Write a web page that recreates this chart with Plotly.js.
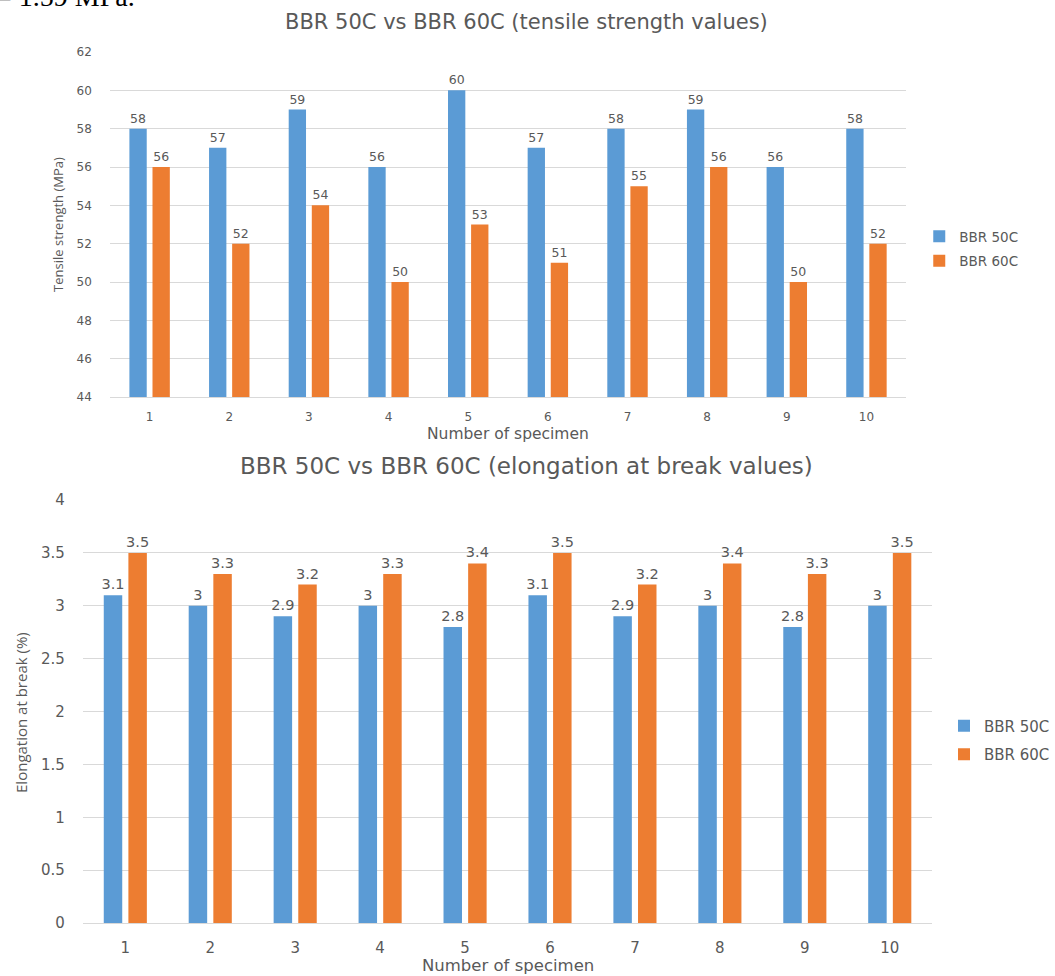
<!DOCTYPE html>
<html>
<head>
<meta charset="utf-8">
<script src="https://cdn.plot.ly/plotly-3.0.1.min.js"></script>
<style>html,body{margin:0;padding:0;background:#fff;}#chart{width:1055px;height:976px;}</style>
</head>
<body>
<div id="chart"></div>
<script>
const specimens = ['1','2','3','4','5','6','7','8','9','10'];
const tensile50 = [58,57,59,56,60,57,58,59,56,58];
const tensile60 = [56,52,54,50,53,51,55,56,50,52];
const elong50 = [3.1,3,2.9,3,2.8,3.1,2.9,3,2.8,3];
const elong60 = [3.5,3.3,3.2,3.3,3.4,3.5,3.2,3.4,3.3,3.5];
const seriesNames = ['BBR 50C','BBR 60C'];
const colors = ['#5B9BD5','#ED7D31'];
const topTitle = 'BBR 50C vs BBR 60C (tensile strength values)';
const bottomTitle = 'BBR 50C vs BBR 60C (elongation at break values)';
const topYTitle = 'Tensile strength (MPa)';
const bottomYTitle = 'Elongation at break (%)';
const xTitle = 'Number of specimen';
const fragmentText = '= 1.59 MPa.';

const W = 1055, H = 976;
const px = v => v / W;
const py = v => 1 - v / H;
const gray = '#595959';
const font = '"DejaVu Sans", sans-serif';
const fontNarrow = '"Open Sans", "DejaVu Sans", sans-serif';

function barTrace(y, i, xa, ya, legend, fs) {
  return {
    type: 'bar', x: specimens, y: y, name: seriesNames[i],
    xaxis: xa, yaxis: ya, legend: legend, legendgroup: legend + i,
    marker: {color: colors[i]},
    text: y.map(String), textposition: 'outside', cliponaxis: false,
    constraintext: 'none', textangle: 0,
    textfont: {family: font, size: fs, color: gray},
    hoverinfo: 'x+y'
  };
}

const data = [
  barTrace(tensile50, 0, 'x', 'y', 'legend', 12.5),
  barTrace(tensile60, 1, 'x', 'y', 'legend', 12.5),
  barTrace(elong50, 0, 'x2', 'y2', 'legend2', 14.5),
  barTrace(elong60, 1, 'x2', 'y2', 'legend2', 14.5)
];

const gridColor = '#d9d9d9';
const layout = {
  width: W, height: H,
  margin: {l: 0, r: 0, t: 0, b: 0},
  paper_bgcolor: '#fff', plot_bgcolor: '#fff',
  font: {family: font, color: gray},
  barmode: 'group', bargap: 0.42, bargroupgap: 0.25,
  showlegend: true,
  xaxis: {
    domain: [px(110), px(908)], anchor: 'y', type: 'category',
    showgrid: false, showline: true, linecolor: gridColor, linewidth: 1,
    ticks: '', ticklabelstandoff: 9,
    tickfont: {family: font, size: 12, color: gray}, zeroline: false
  },
  yaxis: {
    domain: [py(397), py(52)], anchor: 'x', range: [44, 62], dtick: 2,
    showgrid: true, gridcolor: gridColor, gridwidth: 1, zeroline: false,
    showline: false, ticks: '', ticklabelstandoff: 17,
    tickfont: {family: font, size: 12, color: gray}
  },
  xaxis2: {
    domain: [px(83), px(934)], anchor: 'y2', type: 'category',
    showgrid: false, showline: true, linecolor: gridColor, linewidth: 1,
    ticks: '', ticklabelstandoff: 11,
    tickfont: {family: font, size: 15, color: gray}, zeroline: false
  },
  yaxis2: {
    domain: [py(923), py(500)], anchor: 'x2', range: [0, 4], dtick: 0.5,
    showgrid: true, gridcolor: gridColor, gridwidth: 1, zeroline: false,
    showline: false, ticks: '', ticklabelstandoff: 17,
    tickfont: {family: font, size: 15, color: gray}
  },
  legend: {
    x: px(921), xanchor: 'left', y: py(249), yanchor: 'middle',
    font: {family: font, size: 13.5, color: gray},
    bgcolor: 'rgba(0,0,0,0)', tracegroupgap: 4, itemwidth: 30
  },
  legend2: {
    x: px(946), xanchor: 'left', y: py(740), yanchor: 'middle',
    font: {family: font, size: 15, color: gray},
    bgcolor: 'rgba(0,0,0,0)', tracegroupgap: 6, itemwidth: 30
  },
  annotations: [
    {text: topTitle, xref: 'paper', yref: 'paper', x: px(527), y: py(22),
     xanchor: 'center', yanchor: 'middle', showarrow: false,
     font: {family: font, size: 21, color: gray}},
    {text: bottomTitle, xref: 'paper', yref: 'paper', x: px(527), y: py(466),
     xanchor: 'center', yanchor: 'middle', showarrow: false,
     font: {family: font, size: 23, color: gray}},
    {text: topYTitle, xref: 'paper', yref: 'paper', x: px(58), y: py(224),
     xanchor: 'center', yanchor: 'middle', textangle: -90, showarrow: false,
     font: {family: fontNarrow, size: 13, color: gray}},
    {text: bottomYTitle, xref: 'paper', yref: 'paper', x: px(21), y: py(712),
     xanchor: 'center', yanchor: 'middle', textangle: -90, showarrow: false,
     font: {family: fontNarrow, size: 15, color: gray}},
    {text: xTitle, xref: 'paper', yref: 'paper', x: px(509), y: py(434),
     xanchor: 'center', yanchor: 'middle', showarrow: false,
     font: {family: font, size: 15.5, color: gray}},
    {text: xTitle, xref: 'paper', yref: 'paper', x: px(509), y: py(965),
     xanchor: 'center', yanchor: 'middle', showarrow: false,
     font: {family: font, size: 16.5, color: gray}},
    {text: fragmentText, xref: 'paper', yref: 'paper', x: px(-6), y: py(-4),
     xanchor: 'left', yanchor: 'middle', showarrow: false,
     font: {family: '"Liberation Serif", serif', size: 28, color: '#000'}}
  ]
};

Plotly.newPlot('chart', data, layout, {displayModeBar: false, staticPlot: true});
</script>
</body>
</html>
